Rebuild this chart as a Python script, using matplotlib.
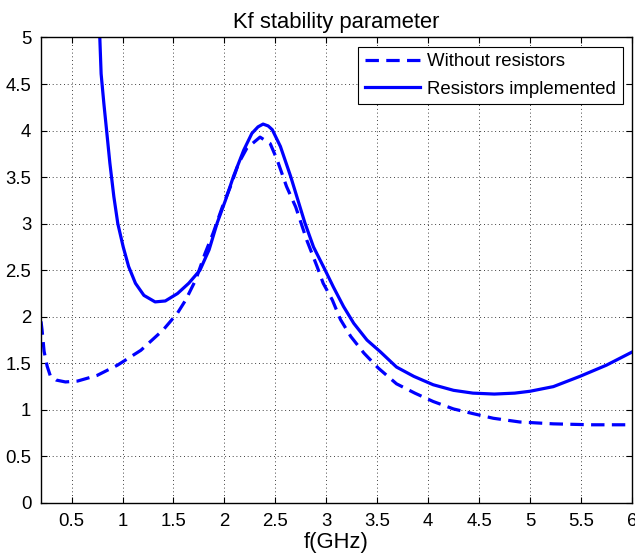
import numpy as np
import matplotlib.pyplot as plt

# Kf stability parameter
f_without = [0.20, 0.21, 0.23, 0.26, 0.29, 0.35, 0.44, 0.56, 0.75, 0.95, 1.18, 1.40,
             1.54, 1.62, 1.72, 1.81, 1.89, 1.98, 2.06, 2.14, 2.22, 2.35, 2.45, 2.52,
             2.61, 2.70, 2.81, 2.91, 2.97, 3.06, 3.14, 3.24, 3.37, 3.51, 3.69, 3.87,
             4.05, 4.25, 4.44, 4.64, 4.90, 5.23, 5.60, 6.00]
k_without = [1.95, 1.86, 1.63, 1.47, 1.37, 1.32, 1.30, 1.31, 1.37, 1.48, 1.64, 1.86,
             2.04, 2.18, 2.40, 2.68, 2.90, 3.18, 3.40, 3.65, 3.81, 3.93, 3.86, 3.68,
             3.40, 3.18, 2.82, 2.54, 2.36, 2.18, 1.97, 1.79, 1.61, 1.45, 1.28, 1.18,
             1.09, 1.01, 0.96, 0.91, 0.87, 0.85, 0.84, 0.84]

f_with = [0.777, 0.79, 0.817, 0.843, 0.876, 0.915, 0.954, 1.007, 1.06, 1.127, 1.21,
          1.32, 1.42, 1.54, 1.65, 1.76, 1.85, 1.93, 2.01, 2.09, 2.19, 2.27, 2.33,
          2.38, 2.43, 2.47, 2.55, 2.65, 2.79, 2.875, 2.99, 3.07, 3.17, 3.27, 3.40,
          3.53, 3.69, 3.86, 4.05, 4.25, 4.44, 4.65, 4.85, 5.00, 5.23, 5.49, 5.75, 6.00]
k_with = [5.00, 4.61, 4.29, 4.01, 3.65, 3.29, 3.00, 2.75, 2.54, 2.36, 2.23,
          2.16, 2.17, 2.25, 2.36, 2.50, 2.72, 3.01, 3.25, 3.51, 3.79, 3.97, 4.04,
          4.07, 4.05, 4.01, 3.83, 3.51, 3.01, 2.75, 2.50, 2.32, 2.11, 1.93, 1.75,
          1.625, 1.46, 1.36, 1.27, 1.21, 1.18, 1.17, 1.18, 1.20, 1.25, 1.36, 1.48, 1.62]

x_ticks = [0.5, 1, 1.5, 2, 2.5, 3, 3.5, 4, 4.5, 5, 5.5, 6]
y_ticks = [0, 0.5, 1, 1.5, 2, 2.5, 3, 3.5, 4, 4.5, 5]

plt.rcParams['font.family'] = ['Liberation Sans', 'DejaVu Sans']
plt.rcParams['font.size'] = 13.4

fig = plt.figure(figsize=(6.35, 5.58), dpi=100)
ax = fig.add_axes([0.0646, 0.0986, 0.9304, 0.8342])

ax.plot(f_without, k_without, color='#0000ff', lw=2.3, ls=(0, (4.2, 2.3)),
        label='Without resistors')
ax.plot(f_with, k_with, color='#0000ff', lw=2.3, label='Resistors implemented')

ax.set_xlim(0.2, 6)
ax.set_ylim(0, 5)
ax.set_xticks(x_ticks)
ax.set_xticklabels([f'{t:g}' for t in x_ticks])
ax.set_yticks(y_ticks)
ax.set_yticklabels([f'{t:g}' for t in y_ticks])

ax.grid(True, color='black', ls=(0, (1, 3.5)), lw=0.6)
ax.tick_params(direction='in', top=True, right=True, length=4, width=0.8, pad=7)
for s in ax.spines.values():
    s.set_linewidth(1.0)

ax.set_title('Kf stability parameter', fontsize=15.8, pad=7)
ax.set_xlabel('f(GHz)', fontsize=15.8, labelpad=2)

leg = ax.legend(loc='upper right', fancybox=False, framealpha=1, edgecolor='black',
                handlelength=2.95, handletextpad=0.4, labelspacing=0.55,
                borderpad=0.35, borderaxespad=0.5)
leg.get_frame().set_linewidth(0.8)

fig.savefig('out.png', dpi=100)
